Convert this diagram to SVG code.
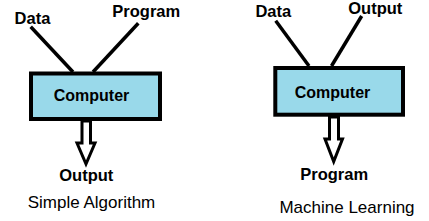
<svg xmlns="http://www.w3.org/2000/svg" width="429" height="221" viewBox="0 0 429 221">
<style>
.box{fill:#99d9ea;stroke:#000;stroke-width:4}
.ln{stroke:#000;stroke-width:3.5;fill:none}
.arr{fill:#fff;stroke:#000;stroke-width:3;stroke-linejoin:miter}
.lb{font-family:"Liberation Sans",Arial,sans-serif;font-weight:bold;font-size:16.5px;fill:#000}
.cp{font-family:"Liberation Sans",Arial,sans-serif;font-weight:bold;font-size:16px;fill:#000}
.cap{font-family:"Liberation Sans",Arial,sans-serif;font-size:17px;fill:#000}
</style>
<rect width="429" height="221" fill="#fff"/>
<g id="connectors">
<line class="ln" x1="30.7" y1="26.7" x2="73" y2="72"/>
<line class="ln" x1="138.3" y1="23.3" x2="93" y2="72"/>
<polygon class="arr" points="82,121 82,143 77,143 86,164 95,143 90.5,143 90.5,121"/>
<line class="ln" x1="275.7" y1="20.7" x2="309" y2="66"/>
<line class="ln" x1="361.7" y1="16" x2="331.5" y2="66"/>
<polygon class="arr" points="329.5,117 329.5,139 325,139 333.7,161.5 342.5,139 338.5,139 338.5,117"/>
</g>
<g id="left-computer">
<rect class="box" x="31" y="73.5" width="129" height="45.5"/>
<text class="cp" x="91.5" y="100.7" text-anchor="middle">Computer</text>
</g>
<g id="left-data"><text class="lb" x="32.5" y="24.3" text-anchor="middle">Data</text></g>
<g id="left-program"><text class="lb" x="146.3" y="16.7" text-anchor="middle">Program</text></g>
<g id="left-output"><text class="lb" x="86.3" y="181" text-anchor="middle">Output</text></g>
<text class="cap" x="91.5" y="207.7" text-anchor="middle">Simple Algorithm</text>
<g id="right-computer">
<rect class="box" x="275.3" y="68" width="127.7" height="46.7"/>
<text class="cp" x="332.5" y="97.7" text-anchor="middle">Computer</text>
</g>
<g id="right-data"><text class="lb" x="273.3" y="16.7" text-anchor="middle">Data</text></g>
<g id="right-output"><text class="lb" x="375.3" y="14" text-anchor="middle">Output</text></g>
<g id="right-program"><text class="lb" x="334.2" y="180" text-anchor="middle">Program</text></g>
<text class="cap" x="347" y="212.7" text-anchor="middle">Machine Learning</text>
</svg>
